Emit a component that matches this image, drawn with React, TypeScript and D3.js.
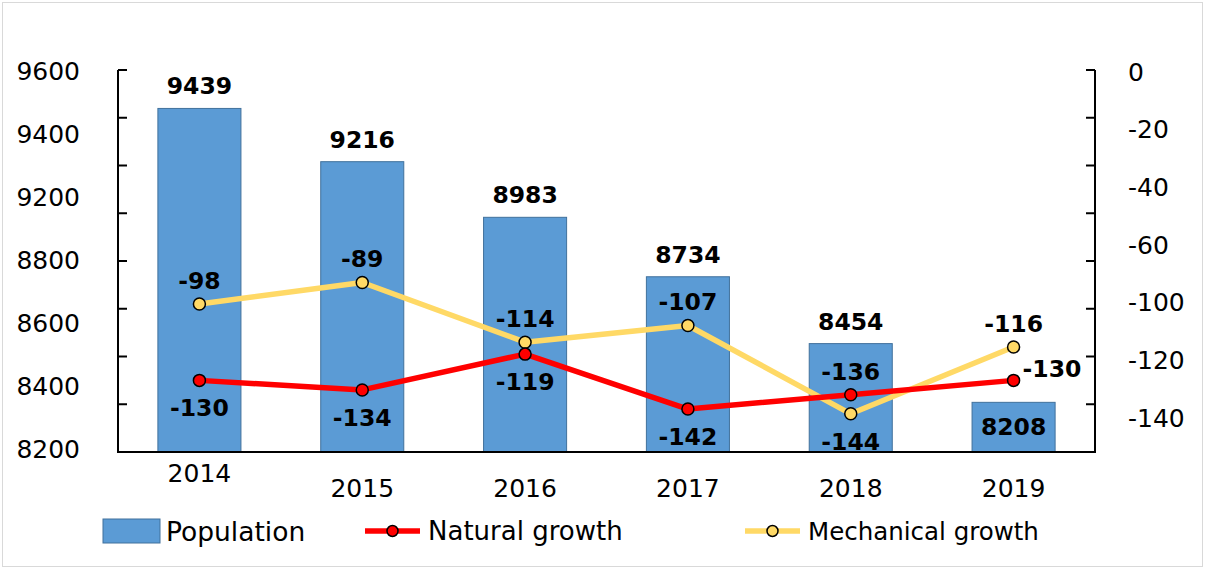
import React from "react";
import * as d3 from "d3";

const years = ["2014", "2015", "2016", "2017", "2018", "2019"];
const population = [9439, 9216, 8983, 8734, 8454, 8208];
const naturalGrowth = [-130, -134, -119, -142, -136, -130];
const mechanicalGrowth = [-98, -89, -114, -107, -144, -116];
const leftTickLabels = ["9600", "9400", "9200", "8800", "8600", "8400", "8200"];
const rightTickLabels = ["0", "-20", "-40", "-60", "-100", "-120", "-140"];
const popLabelPlacement = ["above", "above", "above", "above", "above", "inside"];
const naturalLabelPlacement = ["below", "below", "below", "below", "above", "right"];
const mechanicalLabelPlacement = ["above", "above", "above", "above", "below", "above"];

const W = 1205;
const H = 569;
const plot = { left: 118, right: 1095, top: 70, bottom: 452 };
const FONT = "'DejaVu Sans', sans-serif";
const BAR_FILL = "#5B9BD5";
const BAR_STROKE = "#41719C";
const RED = "#FF0000";
const YELLOW = "#FFD966";

export default function App() {
  const x = d3
    .scaleBand<string>()
    .domain(years)
    .range([plot.left, plot.right])
    .paddingInner(0.49)
    .paddingOuter(0.245);
  const yL = d3.scaleLinear().domain([8000, 9600]).range([plot.bottom, plot.top]);
  const yR = d3.scaleLinear().domain([-160, 0]).range([plot.bottom, plot.top]);
  const leftTicks = d3.range(8000, 9601, 200);
  const rightTicks = d3.range(-160, 1, 20);
  const leftLabelPos = d3.scalePoint<string>().domain(leftTickLabels).range([71, 449]);
  const rightLabelPos = d3.scalePoint<string>().domain(rightTickLabels).range([72, 418]);

  const cx = (i: number) => (x(years[i]) as number) + x.bandwidth() / 2;
  const line = d3
    .line<number>()
    .x((_, i) => cx(i))
    .y((d) => yR(d));

  const lineLabel = (v: number, i: number, place: string, key: string) => {
    let tx = cx(i);
    let ty = yR(v);
    let anchor: "middle" | "start" = "middle";
    if (place === "above") ty -= 23;
    else if (place === "below") ty += 28;
    else if (place === "right") {
      tx += 9;
      ty -= 11;
      anchor = "start";
    }
    return (
      <text
        key={key}
        x={tx}
        y={ty}
        textAnchor={anchor}
        dominantBaseline="central"
        fontFamily={FONT}
        fontWeight="bold"
        fontSize={23.5}
        fill="#000"
      >
        {v}
      </text>
    );
  };

  const legendY = 531;

  return (
    <svg
      width={W}
      height={H}
      style={{ position: "absolute", left: 0, top: 0, background: "#fff" }}
    >
      <rect x={2.5} y={2.5} width={W - 5} height={H - 5} fill="#fff" stroke="#d9d9d9" strokeWidth={1} />

      {/* bars */}
      {population.map((v, i) => (
        <rect
          key={"bar" + i}
          x={x(years[i])}
          y={yL(v)}
          width={x.bandwidth()}
          height={yL(8000) - yL(v)}
          fill={BAR_FILL}
          stroke={BAR_STROKE}
          strokeWidth={1}
        />
      ))}

      {/* axes */}
      <g stroke="#000" strokeWidth={2}>
        <line x1={plot.left} x2={plot.left} y1={plot.top} y2={plot.bottom} />
        <line x1={plot.right} x2={plot.right} y1={plot.top} y2={plot.bottom} />
        <line x1={plot.left - 1} x2={plot.right + 1} y1={plot.bottom} y2={plot.bottom} />
        {leftTicks.map((t) => (
          <line key={"lt" + t} x1={plot.left} x2={plot.left + 9} y1={yL(t)} y2={yL(t)} />
        ))}
        {rightTicks.map((t) => (
          <line key={"rt" + t} x1={plot.right - 9} x2={plot.right} y1={yR(t)} y2={yR(t)} />
        ))}
      </g>

      {/* tick labels */}
      {leftTickLabels.map((l) => (
        <text
          key={"ll" + l}
          x={80}
          y={leftLabelPos(l)}
          textAnchor="end"
          dominantBaseline="central"
          fontFamily={FONT}
          fontSize={25}
          fill="#000"
        >
          {l}
        </text>
      ))}
      {rightTickLabels.map((l) => (
        <text
          key={"rl" + l}
          x={1128}
          y={rightLabelPos(l)}
          textAnchor="start"
          dominantBaseline="central"
          fontFamily={FONT}
          fontSize={25}
          fill="#000"
        >
          {l}
        </text>
      ))}
      {years.map((yr, i) => (
        <text
          key={"yr" + yr}
          x={cx(i)}
          y={i === 0 ? 473 : 488}
          textAnchor="middle"
          dominantBaseline="central"
          fontFamily={FONT}
          fontSize={25}
          fill="#000"
        >
          {yr}
        </text>
      ))}

      {/* lines */}
      <path d={line(mechanicalGrowth) || ""} fill="none" stroke={YELLOW} strokeWidth={5.5} strokeLinejoin="round" />
      <path d={line(naturalGrowth) || ""} fill="none" stroke={RED} strokeWidth={5.5} strokeLinejoin="round" />
      {mechanicalGrowth.map((v, i) => (
        <circle key={"mc" + i} cx={cx(i)} cy={yR(v)} r={6} fill={YELLOW} stroke="#000" strokeWidth={1.5} />
      ))}
      {naturalGrowth.map((v, i) => (
        <circle key={"nc" + i} cx={cx(i)} cy={yR(v)} r={6} fill={RED} stroke="#000" strokeWidth={1.5} />
      ))}

      {/* data labels */}
      {population.map((v, i) => (
        <text
          key={"pl" + i}
          x={cx(i)}
          y={popLabelPlacement[i] === "inside" ? yL(v) + 25 : yL(v) - 22}
          textAnchor="middle"
          dominantBaseline="central"
          fontFamily={FONT}
          fontWeight="bold"
          fontSize={23.5}
          fill="#000"
        >
          {v}
        </text>
      ))}
      {mechanicalGrowth.map((v, i) => lineLabel(v, i, mechanicalLabelPlacement[i], "ml" + i))}
      {naturalGrowth.map((v, i) => lineLabel(v, i, naturalLabelPlacement[i], "nl" + i))}

      {/* legend */}
      <rect x={103} y={legendY - 12} width={57} height={24} fill={BAR_FILL} stroke={BAR_STROKE} strokeWidth={1} />
      <text x={166} y={legendY} dominantBaseline="central" fontFamily={FONT} fontSize={26.5} fill="#000">
        Population
      </text>
      <line x1={365} x2={420} y1={legendY} y2={legendY} stroke={RED} strokeWidth={5.5} />
      <circle cx={392.5} cy={legendY} r={5.5} fill={RED} stroke="#000" strokeWidth={1.5} />
      <text x={428} y={legendY} dominantBaseline="central" fontFamily={FONT} fontSize={26} fill="#000">
        Natural growth
      </text>
      <line x1={745} x2={800} y1={legendY} y2={legendY} stroke={YELLOW} strokeWidth={5.5} />
      <circle cx={772.5} cy={legendY} r={5.5} fill={YELLOW} stroke="#000" strokeWidth={1.5} />
      <text x={808} y={legendY} dominantBaseline="central" fontFamily={FONT} fontSize={24.5} fill="#000">
        Mechanical growth
      </text>
    </svg>
  );
}
